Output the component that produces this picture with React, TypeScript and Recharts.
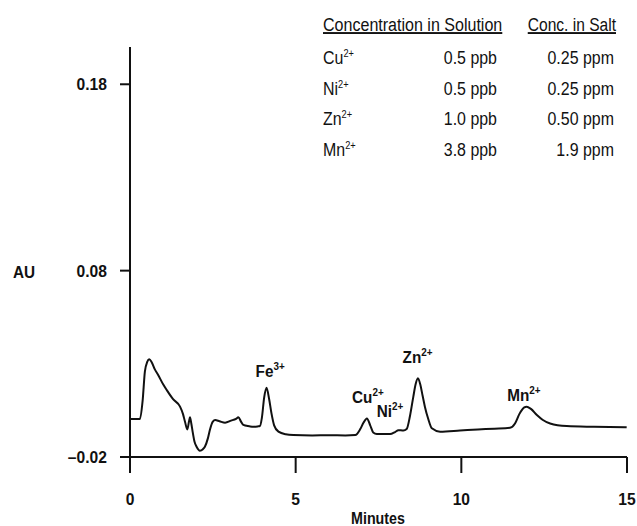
import React from "react"
import { LineChart, Line, XAxis, YAxis, ReferenceDot } from "recharts"

// chromatogram trace (minutes, AU)
const minutes = [
  0, 0.3, 0.38, 0.45, 0.52, 0.58, 0.65, 0.75, 0.85, 1.0, 1.11, 1.3, 1.51, 1.6, 1.66, 1.73, 1.78, 1.81, 1.85,
  1.89, 1.95, 2.01, 2.11, 2.2, 2.26, 2.35, 2.41, 2.5, 2.57, 2.7, 2.87, 3.05, 3.2, 3.27, 3.35, 3.42, 3.6, 3.72,
  3.85, 3.92, 3.98, 4.05, 4.12, 4.2, 4.27, 4.35, 4.48, 4.7, 4.93, 5.5, 6.0, 6.5, 6.8, 6.95, 7.05, 7.15, 7.25,
  7.34, 7.45, 7.85, 8.0, 8.1, 8.25, 8.35, 8.45, 8.55, 8.62, 8.69, 8.76, 8.83, 8.9, 9.0, 9.11, 9.36, 9.96, 10.5,
  11.0, 11.47, 11.62, 11.75, 11.9, 11.97, 12.1, 12.28, 12.45, 12.68, 13.18, 14.0, 14.99,
]
const absorbance = [
  0.0004, 0.0004, 0.01, 0.026, 0.031, 0.0324, 0.031, 0.027, 0.024, 0.019, 0.0159, 0.011, 0.007, 0.003, -0.0011,
  -0.0052, -0.001, 0.0013, -0.002, -0.0064, -0.012, -0.0145, -0.0166, -0.0158, -0.0145, -0.01, -0.0055, -0.001,
  -0.0002, -0.0008, -0.0016, -0.0005, 0.0005, 0.0013, -0.001, -0.0028, -0.0035, -0.0038, -0.0036, -0.0034, 0.001,
  0.012, 0.0172, 0.011, 0.0034, -0.003, -0.0064, -0.0078, -0.0082, -0.0084, -0.0083, -0.0084, -0.0082, -0.005,
  -0.0015, 0.0007, -0.003, -0.0068, -0.0076, -0.0077, -0.0066, -0.0056, -0.0058, -0.005, 0.002, 0.0123, 0.019,
  0.0222, 0.019, 0.013, 0.007, 0.0005, -0.0046, -0.0064, -0.0058, -0.0052, -0.0048, -0.0043, -0.002, 0.003,
  0.0066, 0.007, 0.0058, 0.0025, 0, -0.002, -0.0034, -0.0038, -0.0041,
]

const xTicks = [0, 5, 10, 15]
const yTicks = [-0.02, 0.08, 0.18]

// peak annotations: ion, charge, label anchor (minutes, AU)
const peakIons = ["Fe", "Cu", "Ni", "Zn", "Mn"]
const peakCharges = ["3+", "2+", "2+", "2+", "2+"]
const peakX = [4.23, 7.18, 7.85, 8.68, 11.89]
const peakY = [0.0229, 0.009, 0.0014, 0.0304, 0.01]

// concentration table
const tableIons = ["Cu", "Ni", "Zn", "Mn"]
const solutionConc = ["0.5 ppb", "0.5 ppb", "1.0 ppb", "3.8 ppb"]
const saltConc = ["0.25 ppm", "0.25 ppm", "0.50 ppm", "1.9 ppm"]

const font = "'Liberation Sans', Arial, sans-serif"

const data = minutes.map((t, i) => ({ t, au: absorbance[i] }))

function fmtY(v: number) {
  return v < 0 ? "\u2013" + Math.abs(v).toFixed(2) : v.toFixed(2)
}

// condensed text: no narrow face installed, so squeeze Liberation Sans horizontally
function T(props: any) {
  const { x, y, anchor = "start", size = 18, bold = false, sx = 0.88, underline = false, children } = props
  return (
    <text
      transform={`translate(${x},${y}) scale(${sx},1)`}
      textAnchor={anchor}
      fontFamily={font}
      fontSize={size}
      fontWeight={bold ? "bold" : "normal"}
      textDecoration={underline ? "underline" : undefined}
      fill="#111"
    >
      {children}
    </text>
  )
}

function XTick(props: any) {
  const { x, y, payload } = props
  return (
    <T x={x} y={y + 28} anchor="middle" size={17} bold sx={0.92}>
      {payload.value}
    </T>
  )
}

function YTick(props: any) {
  const { x, y, payload } = props
  return (
    <T x={x} y={y + 6} anchor="end" size={17} bold sx={0.92}>
      {fmtY(payload.value)}
    </T>
  )
}

function PeakLabel(props: any) {
  const { cx, cy, ion, charge } = props
  return (
    <T x={cx} y={cy} anchor="middle" size={17} bold sx={0.9}>
      {ion}
      <tspan fontSize={11} dy={-7}>{charge}</tspan>
    </T>
  )
}

export default function App() {
  return (
    <div style={{ position: "absolute", left: 0, top: 0, width: 637, height: 526, background: "#fff" }}>
      <LineChart width={637} height={526} data={data} margin={{ top: 47, right: 10, left: 0, bottom: 0 }}>
        <XAxis
          dataKey="t"
          type="number"
          domain={[0, 15]}
          ticks={xTicks}
          height={69}
          tickSize={16}
          tickMargin={4}
          axisLine={{ stroke: "#111", strokeWidth: 2 }}
          tickLine={{ stroke: "#111", strokeWidth: 2 }}
          tick={<XTick />}
        />
        <YAxis
          type="number"
          domain={[-0.02, 0.2]}
          ticks={yTicks}
          width={130}
          tickSize={10}
          tickMargin={13}
          axisLine={{ stroke: "#111", strokeWidth: 2 }}
          tickLine={{ stroke: "#111", strokeWidth: 2 }}
          tick={<YTick />}
        />
        <Line
          dataKey="au"
          type="monotone"
          stroke="#111"
          strokeWidth={2}
          dot={false}
          isAnimationActive={false}
        />
        {peakIons.map((ion, i) => (
          <ReferenceDot
            key={ion}
            x={peakX[i]}
            y={peakY[i]}
            r={0}
            shape={(p: any) => <PeakLabel {...p} ion={ion} charge={peakCharges[i]} />}
          />
        ))}
      </LineChart>
      <svg width={637} height={526} style={{ position: "absolute", left: 0, top: 0, pointerEvents: "none" }}>
        <T x={323} y={31} size={19} sx={0.845} underline>Concentration in Solution</T>
        <T x={616} y={31} size={19} sx={0.82} anchor="end" underline>Conc. in Salt</T>
        {tableIons.map((ion, i) => (
          <g key={ion}>
            <T x={323} y={64 + i * 30.7} size={19} sx={0.84}>
              {ion}
              <tspan fontSize={11} dy={-7}>2+</tspan>
            </T>
            <T x={497} y={64 + i * 30.7} size={19} sx={0.84} anchor="end">{solutionConc[i]}</T>
            <T x={614} y={64 + i * 30.7} size={19} sx={0.84} anchor="end">{saltConc[i]}</T>
          </g>
        ))}
        <T x={13} y={278} size={17} bold sx={0.9}>AU</T>
        <T x={378} y={524} size={17} bold sx={0.84} anchor="middle">Minutes</T>
      </svg>
    </div>
  )
}
